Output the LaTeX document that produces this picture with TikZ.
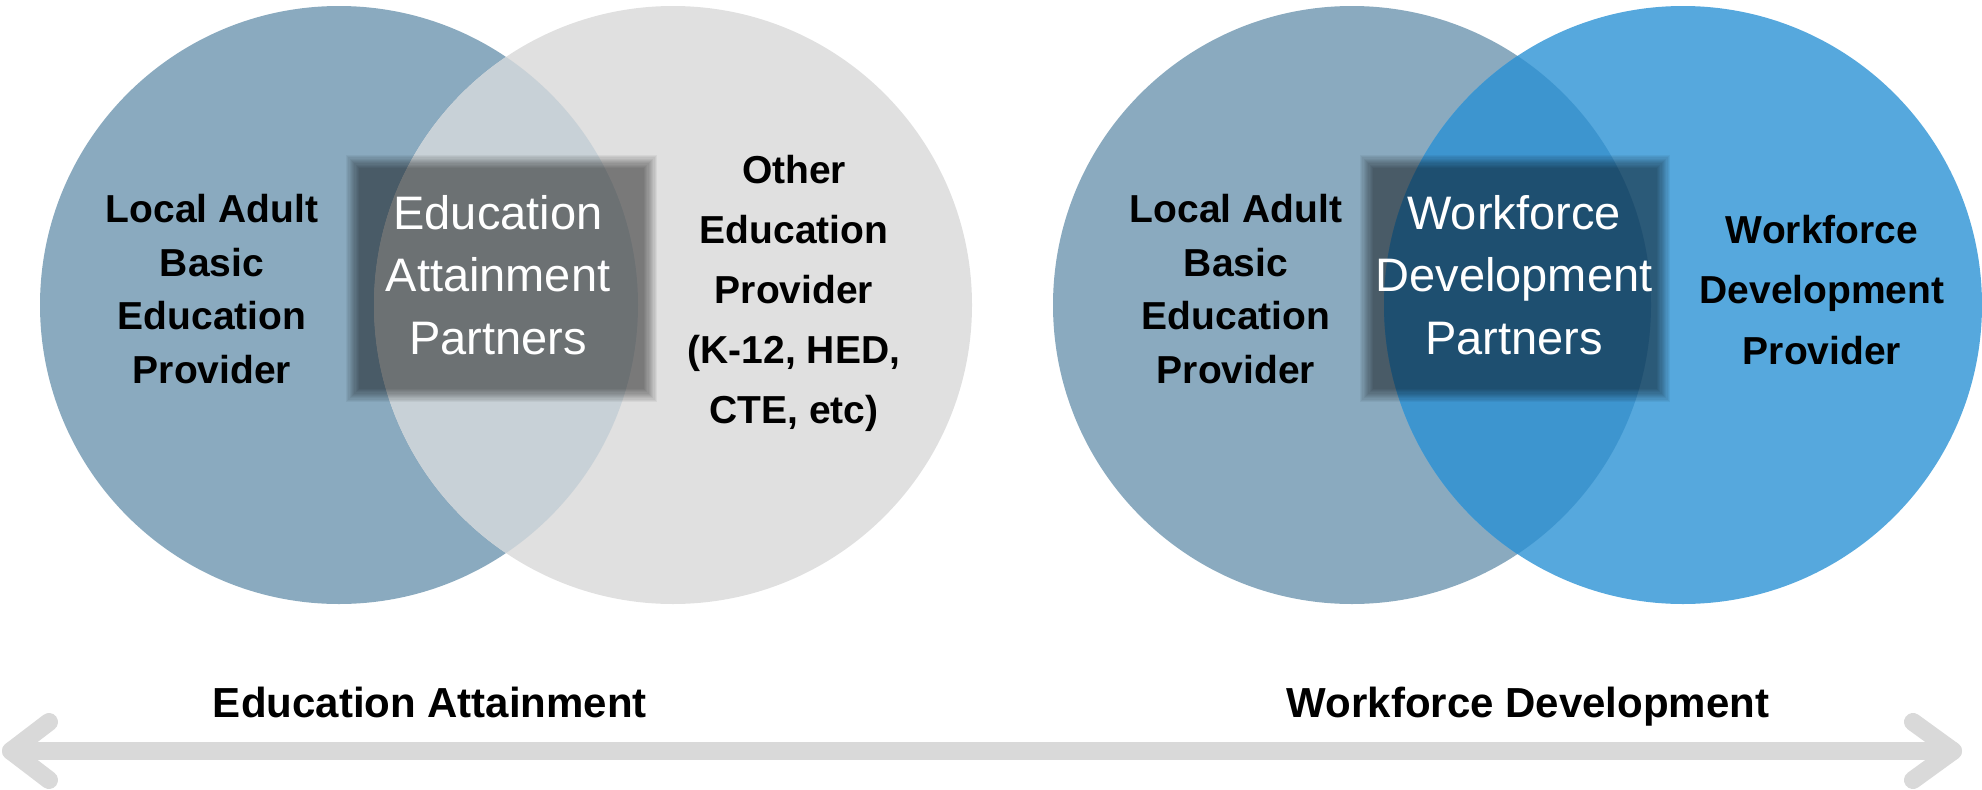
\documentclass[tikz,border=0pt]{standalone}
\usepackage{fontspec}
\setmainfont{Liberation Sans}
\definecolor{cblue}{HTML}{8AAABF}
\definecolor{cgrey}{HTML}{E0E0E0}
\definecolor{covera}{HTML}{C8D1D7}
\definecolor{cbluetwo}{HTML}{56A8DD}
\definecolor{coverb}{HTML}{3D95CF}
\definecolor{carrow}{HTML}{D9D9D9}
\begin{document}
\begin{tikzpicture}[x=1pt,y=-1pt,
  blacklbl/.style={align=center,text=black,font=\bfseries\fontsize{39}{53.5}\selectfont,inner sep=0pt},
  otherlbl/.style={align=center,text=black,font=\bfseries\fontsize{39}{60}\selectfont,inner sep=0pt},
  wflbl/.style={align=center,text=black,font=\bfseries\fontsize{39}{60.5}\selectfont,inner sep=0pt},
  whitelbl/.style={align=center,text=white,font=\fontsize{47}{62.5}\selectfont,inner sep=0pt},
  axislbl/.style={text=black,font=\bfseries\fontsize{42}{50}\selectfont,inner sep=0pt,anchor=base},
  arrowline/.style={draw=carrow,line width=18pt,line cap=round,line join=round}]
\useasboundingbox (0,0) rectangle (1982,790);
% left Venn
\fill[cblue] (339,305) circle (299pt);
\fill[cgrey] (673,305) circle (299pt);
\begin{scope}
  \clip (339,305) circle (299pt);
  \fill[covera] (673,305) circle (299pt);
\end{scope}
% right Venn
\fill[cblue] (1352,305) circle (299pt);
\fill[cbluetwo] (1683,305) circle (299pt);
\begin{scope}
  \clip (1352,305) circle (299pt);
  \fill[coverb] (1683,305) circle (299pt);
\end{scope}
% translucent blurred boxes
\foreach \i in {0,...,11} {
  \fill[black,fill opacity=0.049] (346+\i*1.2,155+\i*1.2) rectangle (657-\i*1.2,402-\i*1.2);
  \fill[black,fill opacity=0.049] (1360+\i*1.2,155+\i*1.2) rectangle (1670-\i*1.2,402-\i*1.2);
}
% labels
\node[blacklbl] (labe) at (212,289) {Local Adult\\Basic\\Education\\Provider};
\node[whitelbl] (eap) at (498,275) {Education\\Attainment\\Partners};
\node[otherlbl] (oep) at (794,293) {Other\\Education\\Provider\\(K-12, HED,\\CTE, etc)};
\node[blacklbl] (labw) at (1236,289) {Local Adult\\Basic\\Education\\Provider};
\node[whitelbl] (wdp) at (1514,275) {Workforce\\Development\\Partners};
\node[wflbl] (wfp) at (1822,290) {Workforce\\Development\\Provider};
% axis
\coordinate (aL) at (11,751);
\coordinate (aR) at (1953,751);
\draw[arrowline] (aL) -- (aR);
\draw[arrowline] ([shift={(38,-29)}]aL) -- (aL) -- ([shift={(38,29)}]aL);
\draw[arrowline] ([shift={(-40,-29)}]aR) -- (aR) -- ([shift={(-40,29)}]aR);
\node[axislbl] (ea) at (430,717) {Education Attainment};
\node[axislbl] (wd) at (1528,717) {Workforce Development};
\end{tikzpicture}
\end{document}
